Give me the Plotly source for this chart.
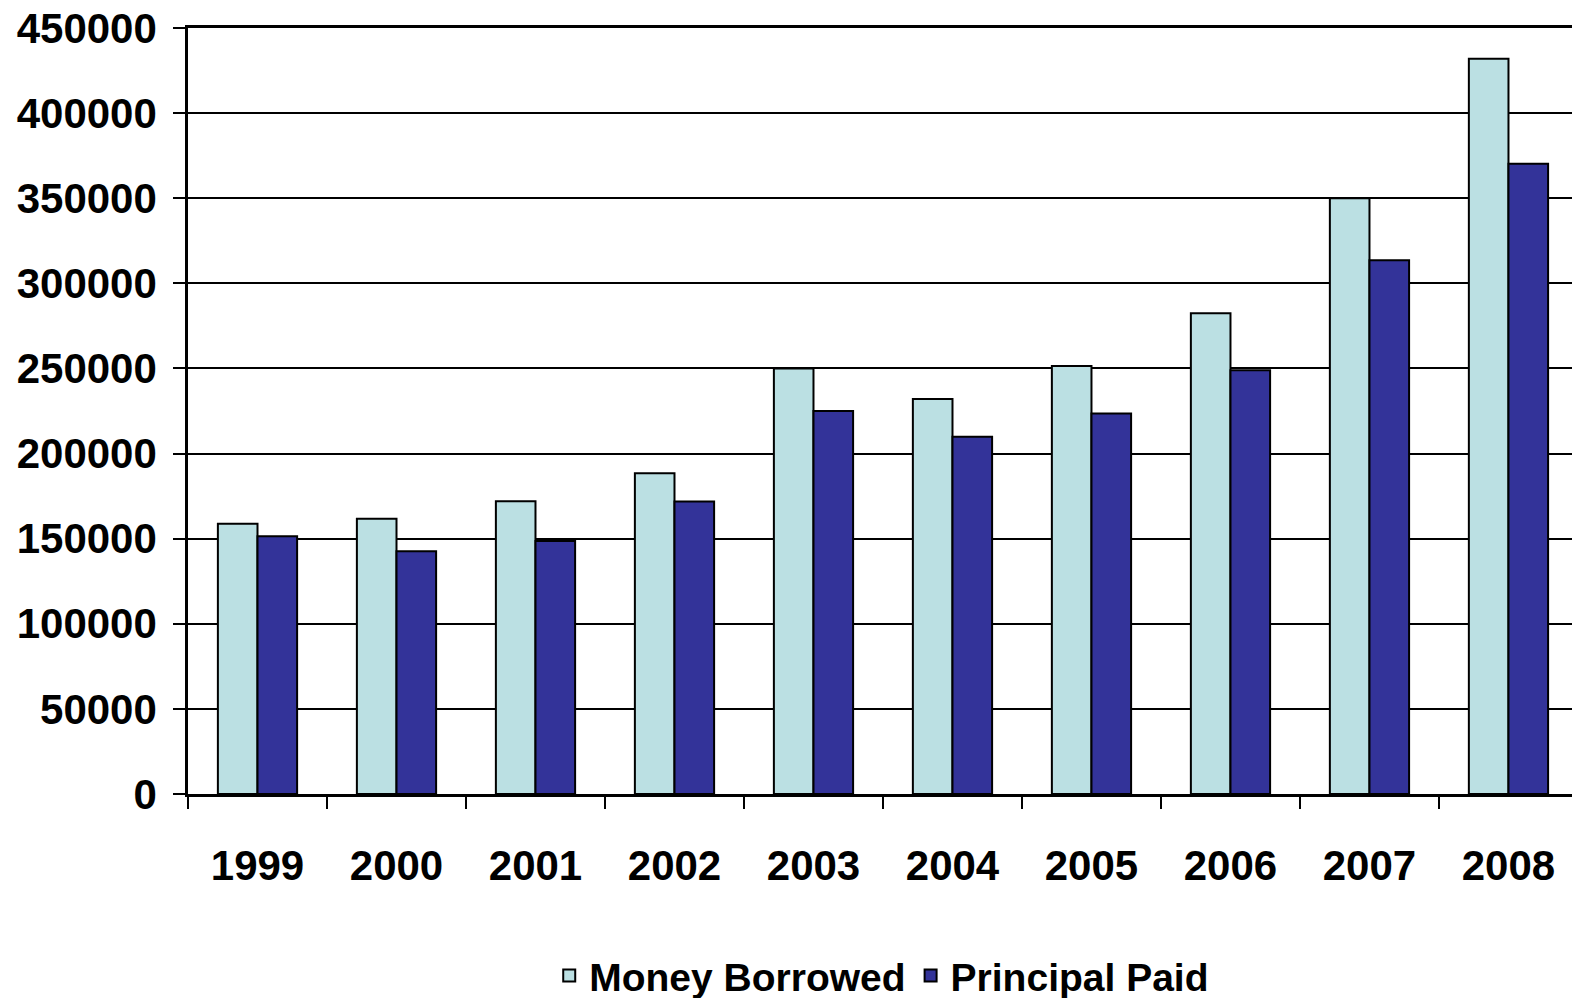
import plotly.graph_objects as go

years = ["1999", "2000", "2001", "2002", "2003", "2004", "2005", "2006", "2007", "2008"]
money_borrowed = [158800, 161700, 172000, 188500, 250000, 232000, 251400, 282400, 350000, 432000]
principal_paid = [151400, 142600, 148700, 171900, 225000, 209800, 223500, 249000, 313500, 370300]
y_ticks = [0, 50000, 100000, 150000, 200000, 250000, 300000, 350000, 400000, 450000]

FONT = "Liberation Sans, Arial, sans-serif"

fig = go.Figure()
fig.add_trace(go.Bar(
    x=years, y=money_borrowed, name="Money Borrowed",
    marker=dict(color="#BBE0E3", line=dict(color="#000000", width=2)),
))
fig.add_trace(go.Bar(
    x=years, y=principal_paid, name="Principal Paid",
    marker=dict(color="#333399", line=dict(color="#000000", width=2)),
))

fig.update_layout(
    width=1564, height=990,
    margin=dict(l=180, r=0, t=20, b=204, autoexpand=False),
    paper_bgcolor="white", plot_bgcolor="white",
    barmode="group", bargap=0.43, bargroupgap=0,
    font=dict(family=FONT, color="#000000", weight="bold"),
    showlegend=True,
    legend=dict(
        orientation="h", x=0.261, xanchor="left", y=-0.237, yanchor="middle",
        font=dict(size=39, family=FONT, weight="bold", color="#000000"),
        tracegroupgap=0,
    ),
)
fig.update_xaxes(
    type="category",
    range=[-0.5, 9.457],
    showline=True, linecolor="#000000", linewidth=2.5, mirror=True,
    ticks="outside", tickson="boundaries", ticklen=12, tickwidth=2, tickcolor="#000000",
    tickfont=dict(size=42, family=FONT, weight="bold"),
    ticklabelstandoff=33,
    showgrid=False,
)
fig.update_yaxes(
    range=[0, 450000], tickvals=y_ticks, ticktext=[str(v) for v in y_ticks],
    showline=True, linecolor="#000000", linewidth=2.5, mirror=True,
    ticks="outside", ticklen=12, tickwidth=2, tickcolor="#000000",
    showgrid=True, gridcolor="#000000", gridwidth=2,
    zeroline=False,
    tickfont=dict(size=42, family=FONT, weight="bold"),
    ticklabelstandoff=8, ticklabeloverflow="allow",
)

fig.write_html("out.html")
